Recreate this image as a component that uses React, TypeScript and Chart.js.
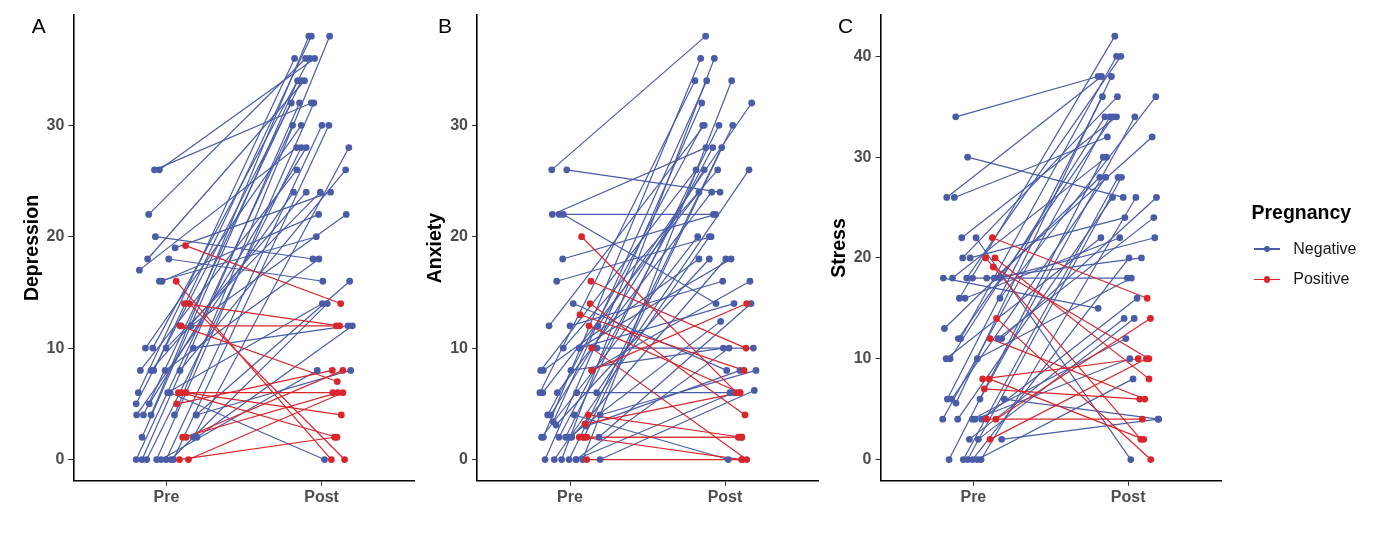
import React, { useEffect, useRef } from 'react';
import { Chart, registerables } from 'chart.js';

Chart.register(...registerables);

const W = 1379;
const H = 544;
const FONT = '"Liberation Sans", Arial, Helvetica, sans-serif';
const NEG = '#4a5ca8';
const POS = '#d9262b';

const timeLabels = ['Pre', 'Post'];
const legendTitle = 'Pregnancy';
const groupNames = ['Negative', 'Positive'];

// ---- Depression: one entry per participant (N = negative, P = positive) ----
const depGroup = [
  'N','N','N','N','N','N','N','N','N','N','N','N','N','N','N','N','N','N','N','N','N',
  'N','N','N','N','N','N','N','N','N','N','N','N','N','N','N','N','N','N','N','N','N',
  'P','P','P','P','P','P','P','P','P','P','P','P','P','P',
];
const depPreJitter = [
  -0.195, -0.195, -0.192, -0.181, -0.174, -0.168, -0.157, -0.157, -0.148, -0.135,
  -0.127, -0.121, -0.114, -0.110, -0.099, -0.099, -0.088, -0.082, -0.077, -0.071,
  -0.063, -0.045, -0.045, -0.034, -0.028, -0.008, -0.002, -0.002, 0.008, 0.015,
  0.024, 0.030, 0.045, 0.052, 0.056, 0.088, 0.159, 0.174, 0.174, 0.192,
  0.192, 0.197,
  0.123, 0.063, 0.116, 0.148, 0.095, 0.077, 0.127, 0.066, 0.105, 0.127, 0.084, 0.142, 0.088, 0.099,
];
const depPre = [
  5, 0, 4, 6, 17, 8, 2, 0, 4, 10,
  0, 18, 22, 5, 8, 4, 10, 8, 26, 20,
  0, 26, 16, 0, 16, 8, 10, 0, 6, 18,
  6, 0, 0, 4, 19, 8, 12, 10, 2, 4,
  4, 2,
  19.2, 16, 14, 14, 12, 6, 6, 5, 2, 2, 0, 0, 12, 6,
];
const depPostJitter = [
  -0.195, -0.187, -0.181, -0.174, -0.161, -0.159, -0.155, -0.142, -0.131, -0.131,
  -0.131, -0.110, -0.103, -0.099, -0.099, -0.082, -0.077, -0.066, -0.066, -0.056,
  -0.050, -0.045, -0.034, -0.028, -0.019, -0.017, -0.008, 0.002, 0.005, 0.008,
  0.019, 0.037, 0.047, 0.052, 0.058, 0.155, 0.159, 0.170, 0.176, 0.181,
  0.187, 0.198,
  0.123, 0.063, 0.116, 0.148, 0.095, 0.073, 0.127, 0.069, 0.105, 0.137, 0.084, 0.137, 0.101, 0.099,
];
const depPost = [
  32, 30, 24, 36, 28, 26, 34, 32, 34, 30,
  28, 34, 36, 28, 24, 38, 36, 38, 32, 18,
  32, 36, 20, 8, 22, 18, 24, 30, 14, 16,
  0, 14, 30, 38, 24, 26, 22, 12, 28, 16,
  8, 12,
  14, 0, 12, 0, 12, 6, 4, 8, 6, 8, 2, 6, 7, 2,
];

// ---- Anxiety ----
const anxGroup = [
  'N','N','N','N','N','N','N','N','N','N','N','N','N','N','N','N','N','N','N','N','N','N','N','N',
  'N','N','N','N','N','N','N','N','N','N','N','N','N','N','N','N','N','N','N','N','N','N','N',
  'P','P','P','P','P','P','P','P','P','P','P','P','P',
];
const anxPreJitter = [
  -0.194, -0.189, -0.183, -0.176, -0.172, -0.172, -0.161, -0.144, -0.135, -0.125,
  -0.118, -0.114, -0.108, -0.101, -0.090, -0.086, -0.082, -0.071, -0.069, -0.054,
  -0.047, -0.043, -0.043, -0.028, -0.021, -0.006, -0.006, 0, 0.006, 0.011,
  0.021, 0.028, 0.039, 0.043, 0.060, 0.082, 0.090, 0.039, 0.060, 0.103,
  0.172, 0.181, 0.142, 0.187, 0.174, 0.194, 0.194,
  0.075, 0.135, 0.129, 0.065, 0.123, 0.140, 0.140, 0.118, 0.097, 0.060, 0.086, 0.108, 0.108,
];
const anxPre = [
  6, 8, 2, 6, 8, 2, 0, 4, 12, 4,
  26, 22, 3.4, 0, 3.1, 16, 6, 2, 22, 0,
  18, 22, 10, 2, 26, 2, 0, 12, 8, 2,
  14, 4, 0, 6, 10, 0, 2, 0, 10, 3,
  6, 12, 8, 2, 10, 0, 4,
  20, 16, 14, 13, 12, 10, 8, 4, 3.2, 2, 2, 2, 0,
];
const anxPostJitter = [
  -0.194, -0.187, -0.176, -0.168, -0.168, -0.157, -0.150, -0.144, -0.134, -0.134,
  -0.125, -0.123, -0.118, -0.101, -0.101, -0.090, -0.086, -0.079, -0.075, -0.069,
  -0.060, -0.058, -0.047, -0.039, -0.032, -0.028, -0.021, -0.015, -0.011, 0.005,
  0.011, 0.021, 0.026, 0.032, 0.039, 0.043, 0.050, 0.054, 0.058, 0.097,
  0.155, 0.172, 0.161, 0.168, 0.183, 0.189, 0.2,
  0.075, 0.135, 0.129, 0.123, 0.097, 0.140, 0.140, 0.108, 0.097, 0.086, 0.108, 0.108, 0.108,
];
const anxPost = [
  34, 26, 20, 24, 18, 36, 32, 30, 30, 26,
  38, 28, 34, 20, 18, 20, 24, 28, 22, 36,
  22, 14, 26, 30, 24, 12.4, 28, 16, 10, 18,
  8, 0, 10, 6, 18, 34, 30, 6, 14, 8,
  26, 32, 16, 14, 10, 6.2, 8,
  6, 10, 4, 8, 6, 0, 14, 2, 6, 2, 0, 2, 0,
];

// ---- Stress ----
const strGroup = [
  'N','N','N','N','N','N','N','N','N','N','N','N','N','N','N','N','N','N','N','N','N','N','N',
  'N','N','N','N','N','N','N','N','N','N','N','N','N','N','N','N','N','N','N','N','N','N',
  'P','P','P','P','P','P','P','P','P','P','P','P',
];
const strPreJitter = [
  -0.198, -0.194, -0.187, -0.176, -0.172, -0.168, -0.157, -0.150, -0.140, -0.135,
  -0.123, -0.114, -0.112, -0.101, -0.097, -0.090, -0.082, -0.075, -0.069, -0.065,
  -0.054, -0.043, -0.037, -0.037, -0.026, -0.021, -0.006, -0.005, -0.005, 0.011,
  0.017, 0.026, 0.026, 0.032, 0.043, 0.050, 0.054, 0.086, 0.135, 0.161,
  0.172, 0.172, 0.183, 0.183, 0.2,
  0.123, 0.079, 0.140, 0.129, 0.150, 0.108, 0.060, 0.103, 0.071, 0.086, 0.146, 0.108,
];
const strPre = [
  4, 18, 13, 10, 26, 6, 0, 10, 6, 18,
  26, 34, 5.6, 4, 12, 16, 12, 22, 20, 0,
  16, 18, 30, 0, 2, 20, 4, 18, 0, 4,
  22, 10, 0, 2, 6, 0, 4, 18, 18, 12,
  18, 16, 12, 2, 6,
  22, 20, 20, 19.1, 14, 12, 8, 8, 7, 4, 4, 2,
];
const strPostJitter = [
  -0.118, -0.194, -0.183, -0.176, -0.172, -0.166, -0.161, -0.150, -0.144, -0.140,
  -0.134, -0.194, -0.108, -0.101, -0.097, -0.086, -0.075, -0.075, -0.069, -0.065,
  -0.054, -0.047, -0.032, -0.043, -0.026, -0.021, -0.015, -0.005, 0.006, 0.011,
  0.017, 0.021, 0.032, 0.039, 0.043, 0.050, 0.058, 0.086, 0.155, 0.166,
  0.172, 0.179, 0.183, 0.194, 0.197,
  0.123, 0.082, 0.135, 0.134, 0.146, 0.108, 0.065, 0.101, 0.075, 0.092, 0.144, 0.118,
];
const strPost = [
  34, 15, 28, 22, 38, 36, 30, 34, 28, 30,
  32, 38, 38, 26, 34, 42, 40, 34, 36, 28,
  22, 40, 26, 28, 14, 24, 12, 18, 20, 10,
  0, 18, 8, 14, 34, 26, 16, 20, 32, 24,
  22, 36, 26, 4, 4,
  16, 2, 8, 10, 0, 6, 10, 2, 6, 4, 14, 10,
];

const depTicks = [0, 10, 20, 30];
const anxTicks = [0, 10, 20, 30];
const strTicks = [0, 10, 20, 30, 40];

type PanelSpec = {
  letter: string;
  title: string;
  yMin: number;
  yMax: number;
  yTicks: number[];
  group: string[];
  preJitter: number[];
  pre: number[];
  postJitter: number[];
  post: number[];
  left: number;
  right: number;
  letterX: number;
  titleX: number;
};

const PLOT_TOP = 15;
const PLOT_BOTTOM = 480.7;
const DOT_R = 3.4;

const panels: PanelSpec[] = [
  {
    letter: 'A', title: 'Depression', yMin: -1.9, yMax: 39.9, yTicks: depTicks,
    group: depGroup, preJitter: depPreJitter, pre: depPre, postJitter: depPostJitter, post: depPost,
    left: 73.3, right: 414.7, letterX: 38.7, titleX: 31.5,
  },
  {
    letter: 'B', title: 'Anxiety', yMin: -1.9, yMax: 39.9, yTicks: anxTicks,
    group: anxGroup, preJitter: anxPreJitter, pre: anxPre, postJitter: anxPostJitter, post: anxPost,
    left: 477, right: 818, letterX: 445, titleX: 434.5,
  },
  {
    letter: 'C', title: 'Stress', yMin: -2.1, yMax: 44.1, yTicks: strTicks,
    group: strGroup, preJitter: strPreJitter, pre: strPre, postJitter: strPostJitter, post: strPost,
    left: 880.5, right: 1221, letterX: 845.5, titleX: 838.5,
  },
];

function makeConfig(p: PanelSpec): any {
  const lineSets: any[] = [];
  const negPts: { x: number; y: number }[] = [];
  const posPts: { x: number; y: number }[] = [];
  p.pre.forEach((v, i) => {
    const isPos = p.group[i] === 'P';
    const a = { x: 1 + p.preJitter[i], y: v };
    const b = { x: 2 + p.postJitter[i], y: p.post[i] };
    lineSets.push({
      data: [a, b],
      showLine: true,
      borderColor: isPos ? POS : NEG,
      borderWidth: 1.2,
      pointRadius: 0,
      order: isPos ? 2 : 3,
    });
    (isPos ? posPts : negPts).push(a, b);
  });
  const pointSet = (data: any[], color: string, order: number) => ({
    data,
    showLine: false,
    backgroundColor: color,
    borderColor: color,
    borderWidth: 0,
    pointRadius: DOT_R,
    order,
  });

  const tickFont = { family: FONT, size: 16, weight: 'bold' as const };
  const grid = {
    display: true,
    drawOnChartArea: false,
    drawTicks: true,
    tickLength: 5,
    color: '#333333',
    lineWidth: 1,
  };
  const border = { display: true, color: '#000000', width: 1.6 };

  return {
    type: 'scatter',
    data: { datasets: [pointSet(posPts, POS, 0), pointSet(negPts, NEG, 1), ...lineSets] },
    options: {
      animation: false,
      responsive: false,
      devicePixelRatio: 1,
      events: [],
      layout: { padding: { left: 0, top: PLOT_TOP, right: W - p.right, bottom: 0 } },
      plugins: { legend: { display: false }, tooltip: { enabled: false } },
      scales: {
        x: {
          type: 'linear',
          min: 0.4,
          max: 2.6,
          afterBuildTicks: (s: any) => {
            s.ticks = timeLabels.map((_, i) => ({ value: i + 1 }));
          },
          afterFit: (s: any) => {
            s.height = H - PLOT_BOTTOM;
          },
          ticks: {
            callback: (v: any) => timeLabels[Math.round(v) - 1] ?? '',
            color: '#4d4d4d',
            font: tickFont,
            padding: 2,
            maxRotation: 0,
            autoSkip: false,
          },
          grid,
          border,
        },
        y: {
          type: 'linear',
          min: p.yMin,
          max: p.yMax,
          afterBuildTicks: (s: any) => {
            s.ticks = p.yTicks.map((v) => ({ value: v }));
          },
          afterFit: (s: any) => {
            s.width = p.left;
          },
          ticks: {
            color: '#4d4d4d',
            font: tickFont,
            padding: 4,
          },
          grid,
          border,
        },
      },
    },
  };
}

function PanelChart({ spec }: { spec: PanelSpec }) {
  const ref = useRef<HTMLCanvasElement>(null);
  useEffect(() => {
    if (!ref.current) return;
    const chart = new Chart(ref.current, makeConfig(spec));
    return () => chart.destroy();
  }, [spec]);
  return (
    <canvas
      ref={ref}
      width={W}
      height={H}
      style={{ position: 'absolute', left: 0, top: 0, width: W, height: H }}
    />
  );
}

const textBase: React.CSSProperties = {
  position: 'absolute',
  whiteSpace: 'nowrap',
  lineHeight: 1,
  fontFamily: FONT,
};

export default function App() {
  return (
    <div
      style={{
        position: 'absolute',
        left: 0,
        top: 0,
        width: W,
        height: H,
        background: '#ffffff',
        overflow: 'hidden',
        fontFamily: FONT,
      }}
    >
      {panels.map((p) => (
        <PanelChart key={p.letter} spec={p} />
      ))}
      {panels.map((p) => (
        <React.Fragment key={p.letter + '-text'}>
          <div
            style={{
              ...textBase,
              left: p.letterX,
              top: 24.5,
              transform: 'translate(-50%, -50%)',
              fontSize: 21,
              color: '#000',
            }}
          >
            {p.letter}
          </div>
          <div
            style={{
              ...textBase,
              left: p.titleX,
              top: (PLOT_TOP + PLOT_BOTTOM) / 2,
              transform: 'translate(-50%, -50%) rotate(-90deg)',
              fontSize: 19.5,
              fontWeight: 'bold',
              color: '#000',
            }}
          >
            {p.title}
          </div>
        </React.Fragment>
      ))}
      <div
        style={{
          ...textBase,
          left: 1251.5,
          top: 212.5,
          transform: 'translate(0, -50%)',
          fontSize: 19.5,
          fontWeight: 'bold',
          color: '#000',
        }}
      >
        {legendTitle}
      </div>
      {groupNames.map((name, i) => {
        const color = i === 0 ? NEG : POS;
        const cy = i === 0 ? 249 : 279.3;
        return (
          <React.Fragment key={name}>
            <div
              style={{
                position: 'absolute',
                left: 1254,
                top: cy - 0.6,
                width: 26,
                height: 1.2,
                background: color,
              }}
            />
            <div
              style={{
                position: 'absolute',
                left: 1267 - DOT_R,
                top: cy - DOT_R,
                width: DOT_R * 2,
                height: DOT_R * 2,
                borderRadius: '50%',
                background: color,
              }}
            />
            <div
              style={{
                ...textBase,
                left: 1293.3,
                top: cy,
                transform: 'translate(0, -50%)',
                fontSize: 16,
                color: '#1a1a1a',
              }}
            >
              {name}
            </div>
          </React.Fragment>
        );
      })}
    </div>
  );
}
